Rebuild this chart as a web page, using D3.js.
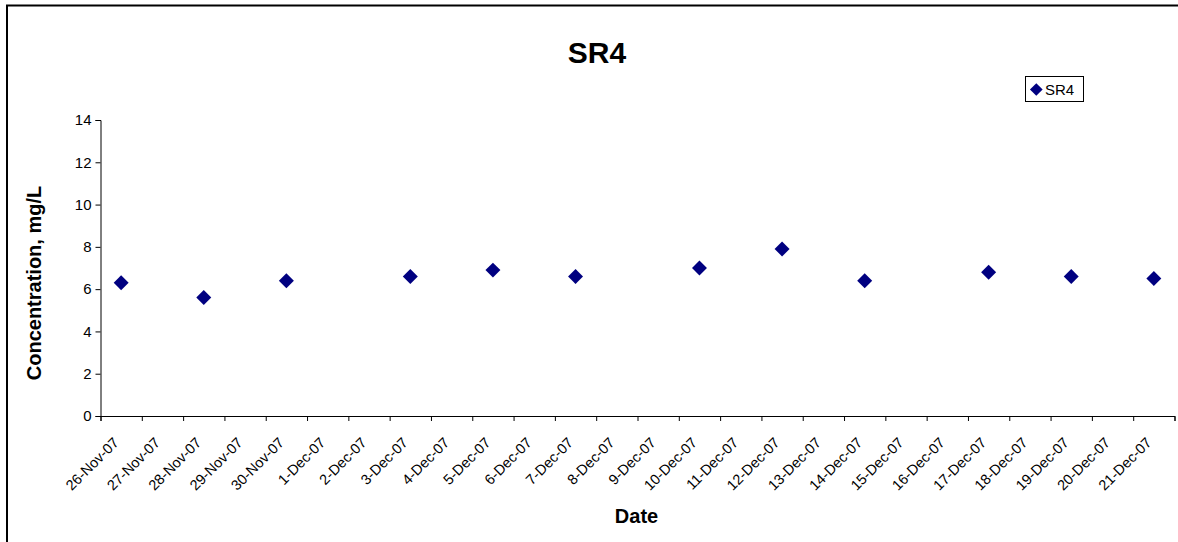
<!DOCTYPE html>
<html><head><meta charset="utf-8">
<script src="https://cdn.jsdelivr.net/npm/d3@7"></script>
<style>body{margin:0;background:#fff}svg{display:block;font-family:Arial,"Liberation Sans",sans-serif}</style>
</head><body><svg id="c" width="1178" height="542"></svg>
<script>
const categories = ["26-Nov-07","27-Nov-07","28-Nov-07","29-Nov-07","30-Nov-07","1-Dec-07","2-Dec-07","3-Dec-07","4-Dec-07","5-Dec-07","6-Dec-07","7-Dec-07","8-Dec-07","9-Dec-07","10-Dec-07","11-Dec-07","12-Dec-07","13-Dec-07","14-Dec-07","15-Dec-07","16-Dec-07","17-Dec-07","18-Dec-07","19-Dec-07","20-Dec-07","21-Dec-07"];
const pointDates = ["26-Nov-07","28-Nov-07","30-Nov-07","3-Dec-07","5-Dec-07","7-Dec-07","10-Dec-07","12-Dec-07","14-Dec-07","17-Dec-07","19-Dec-07","21-Dec-07"];
const sr4Values = [6.3,5.6,6.4,6.6,6.9,6.6,7.0,7.9,6.4,6.8,6.6,6.5];
const yTicks = [0,2,4,6,8,10,12,14];

const FONT = "Arial,'Liberation Sans',sans-serif";
const svg = d3.select("#c");
const L = 100.5, R = 1174.5, T = 120, B = 416;

// outer frame
svg.append("rect").attr("x",7).attr("y",5.5).attr("width",1200).attr("height",600)
  .attr("fill","none").attr("stroke","#000").attr("stroke-width",2);

const x = d3.scaleBand().domain(categories).range([L,R]);
const xi = d3.scaleLinear().domain([0,categories.length]).range([L,R]);
const y = d3.scaleLinear().domain([0,14]).range([B,T]);

// y axis
const ya = svg.append("g").attr("transform",`translate(${L},0)`)
  .call(d3.axisLeft(y).tickValues(yTicks).tickSize(5).tickPadding(4));
ya.select(".domain").attr("stroke","#000");
ya.selectAll("text").attr("font-size",15).attr("font-family",FONT).attr("fill","#000");

// x axis ticks between categories
const xa = svg.append("g").attr("transform",`translate(0,${B})`)
  .call(d3.axisBottom(xi).tickValues(d3.range(0,categories.length+1)).tickSize(5).tickFormat(""));
xa.select(".domain").attr("stroke","#000");

// x labels
const xl = svg.append("g").attr("transform",`translate(0,${B})`)
  .call(d3.axisBottom(x).tickSize(0).tickPadding(0));
xl.select(".domain").remove();
xl.selectAll("text")
  .attr("font-size",14.5).attr("font-family",FONT).attr("fill","#000")
  .attr("text-anchor","end").attr("dy",0).attr("y",0)
  .attr("transform","translate(-1.5,27.5) rotate(-45)");

// points
const diamond = d3.symbol().type(d3.symbolSquare).size(112);
svg.append("g").selectAll("path").data(pointDates.map((d,i)=>({d,v:sr4Values[i]})))
  .join("path")
  .attr("d",diamond)
  .attr("transform",d=>`translate(${x(d.d)+x.bandwidth()/2},${y(d.v)}) rotate(45)`)
  .attr("fill","#000080");

// title
svg.append("text").attr("x",597).attr("y",63).attr("text-anchor","middle")
  .attr("font-size",30).attr("font-weight","bold").text("SR4");

// axis titles
svg.append("text").attr("x",636.5).attr("y",523).attr("text-anchor","middle")
  .attr("font-size",20).attr("font-weight","bold").text("Date");
svg.append("text").attr("transform","translate(41,283) rotate(-90)").attr("text-anchor","middle")
  .attr("font-size",20).attr("font-weight","bold").text("Concentration, mg/L");

// legend
const lg = svg.append("g");
lg.append("rect").attr("x",1025.5).attr("y",76.5).attr("width",58).attr("height",25)
  .attr("fill","#fff").attr("stroke","#000").attr("stroke-width",1);
lg.append("path").attr("d",d3.symbol().type(d3.symbolSquare).size(81))
  .attr("transform","translate(1036.3,89.5) rotate(45)").attr("fill","#000080");
lg.append("text").attr("x",1045).attr("y",95).attr("font-size",15).text("SR4");
</script></body></html>
